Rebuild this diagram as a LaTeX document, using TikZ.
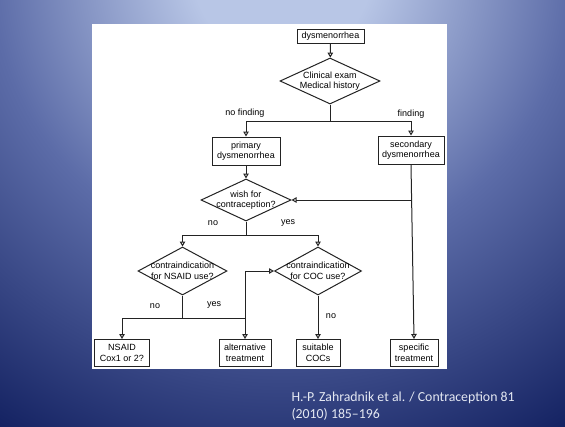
\documentclass[tikz,border=0pt]{standalone}
\usepackage{fontspec}
\setmainfont{Liberation Sans}
\newfontfamily\citefont[Ligatures=TeX]{Carlito}
\usepackage{tikz}
\usetikzlibrary{arrows.meta,calc,shapes.geometric}
\definecolor{bgtop}{RGB}{184,198,230}
\definecolor{bgmid}{RGB}{92,108,168}
\definecolor{bgbot}{RGB}{20,34,98}
\definecolor{linegray}{RGB}{35,35,35}
\definecolor{citewhite}{RGB}{228,232,242}
\pgfdeclareradialshading{slidebg}{\pgfpoint{0bp}{0bp}}{color(0bp)=(bgtop); color(4bp)=(bgtop); color(13bp)=(bgmid); color(24bp)=(bgbot); color(50bp)=(bgbot)}

\begin{document}
\begin{tikzpicture}[x=1pt,y=-1pt,
    box/.style={draw=linegray,line width=1pt,fill=white,inner sep=1pt,align=center,font=\fontsize{9}{10.5}\selectfont},
    query/.style={diamond,draw=linegray,line width=1pt,shape aspect=2,inner sep=-4pt,align=center,font=\fontsize{9}{10.5}\selectfont},
    flow/.style={draw=linegray,line width=1pt,-{Triangle[open,width=5.5pt,length=5pt]}},
    branch/.style={draw=linegray,line width=1pt},
    lbl/.style={font=\fontsize{9}{10.5}\selectfont}]
    \useasboundingbox (0,0) rectangle (565,426);
    \begin{scope}
    \clip (0,0) rectangle (565,426);
    \fill[bgbot] (0,0) rectangle (565,426);
    \shade[shading=slidebg] (282,-30) circle (560pt);
    \end{scope}
    \fill[white] (92,24) rectangle (447,369);
    % flow chart
    \node[box,minimum width=67pt,minimum height=14pt] (dys) at (330.5,36) {dysmenorrhea};
    \node[query,minimum width=100pt,minimum height=46pt] (clin) at (330,81) {Clinical exam\\Medical history};
    \node[box,minimum width=68pt,minimum height=28pt] (prim) at (246,151) {primary\\dysmenorrhea};
    \node[box,minimum width=66pt,minimum height=28pt] (sec) at (411,150) {secondary\\dysmenorrhea};
    \node[query,minimum width=90pt,minimum height=42pt] (wish) at (246,200) {wish for\\contraception?};
    \node[query,minimum width=89pt,minimum height=48pt] (nsaidq) at (182.5,271) {contraindication\\for NSAID use?};
    \node[query,minimum width=87pt,minimum height=48pt] (cocq) at (318,271) {contraindication\\for COC use?};
    \node[box,minimum width=55pt,minimum height=27pt] (nsaid) at (122,353) {NSAID\\Cox1 or 2?};
    \node[box,minimum width=52pt,minimum height=27pt] (alt) at (245,353) {alternative\\treatment};
    \node[box,minimum width=44pt,minimum height=27pt] (coc) at (318,353) {suitable\\COCs};
    \node[box,minimum width=48pt,minimum height=27pt] (spec) at (414,353) {specific\\treatment};
    \coordinate (j1) at ($(clin.south)+(0,17)$);
    \coordinate (j2) at ($(wish.south)+(0,14)$);
    \coordinate (j3) at ($(nsaidq.south)+(0,23)$);
    \coordinate (j4) at (sec.south |- wish.east);
    \draw[flow] (dys) -- (clin);
    \draw[branch] (clin.south) -- (j1);
    \draw[flow] (j1) -| (prim.north);
    \draw[flow] (j1) -| (sec.north);
    \node[lbl] (nofind) at (245,113) {no finding};
    \node[lbl] (find) at (411,114) {finding};
    \draw[flow] (prim) -- (wish);
    \draw[flow] (sec.south) -- (spec.north);
    \draw[flow] (j4) -- (wish.east);
    \draw[branch] (wish.south) -- (j2);
    \draw[flow] (j2) -| (nsaidq.north);
    \draw[flow] (j2) -| (cocq.north);
    \node[lbl] (wishno) at (213,223) {no};
    \node[lbl] (wishyes) at (288,223) {yes};
    \draw[branch] (nsaidq.south) -- (j3);
    \draw[flow] (j3) -| (nsaid.north);
    \draw[flow] (j3) -| (alt.north);
    \draw[flow] (alt.north |- j3) |- (cocq.west);
    \node[lbl] (nsaidno) at (155,306) {no};
    \node[lbl] (nsaidyes) at (214,305) {yes};
    \draw[flow] (cocq) -- (coc);
    \node[lbl] (cocno) at (331,316) {no};
    % source
    \node[anchor=west,align=left,text=citewhite,font=\citefont\fontsize{13.8}{17}\selectfont] (src) at (288,406.5) {H.-P. Zahradnik et al. / Contraception 81\\(2010) 185–196};
\end{tikzpicture}
\end{document}
